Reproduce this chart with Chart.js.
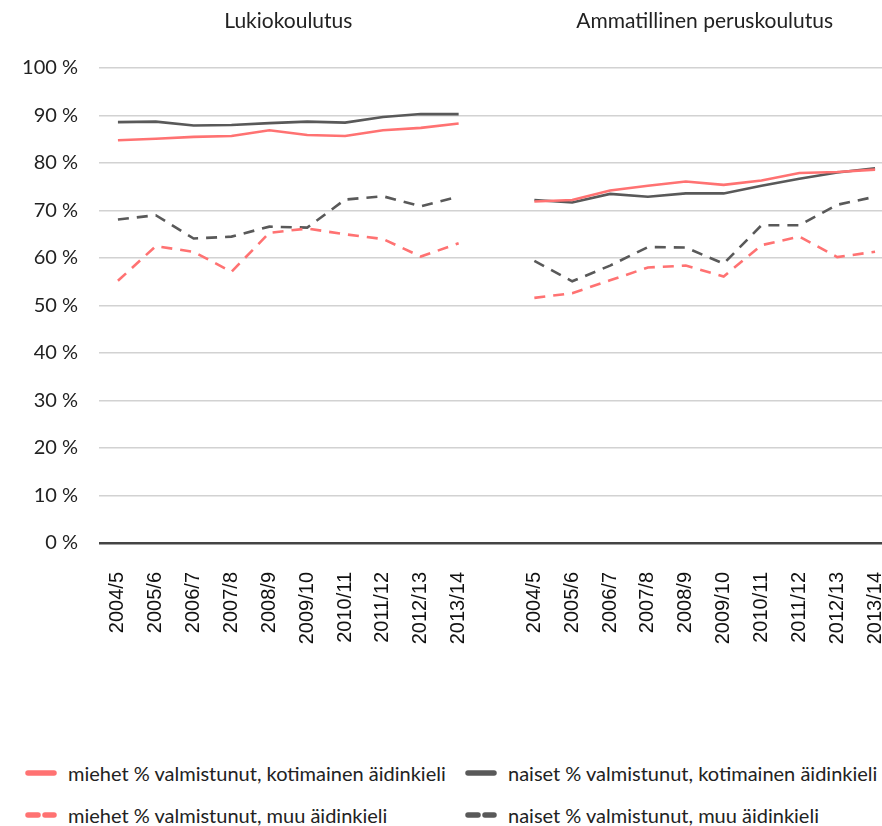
<!DOCTYPE html>
<html>
<head>
<meta charset="utf-8">
<script src="https://cdn.jsdelivr.net/npm/chart.js@4.4.1/dist/chart.umd.min.js"></script>
<style>
  html, body { margin: 0; padding: 0; background: #fff; overflow: hidden; }
  body { width: 882px; height: 826px; position: relative; font-family: Lato, "Noto Sans", sans-serif; color: #222; }
  #wrap { position: absolute; left: 0; top: 0; width: 894px; height: 680px; }
  .leg { position: absolute; display: flex; align-items: center; font-size: 20px; white-space: nowrap; }
  .leg svg { margin-right: 11px; }
</style>
</head>
<body>
<div id="wrap"><canvas id="chart"></canvas></div>
<div id="legend"></div>
<script>
// lukuvuodet, sama jako molemmille koulutusmuodoille
const years = ['2004/5', '2005/6', '2006/7', '2007/8', '2008/9', '2009/10', '2010/11', '2011/12', '2012/13', '2013/14'];
const groupTitles = ['Lukiokoulutus', 'Ammatillinen peruskoulutus'];

// % valmistunut
const miehetKotiLukio = [84.8, 85.1, 85.5, 85.7, 86.9, 85.9, 85.7, 86.9, 87.4, 88.3];
const miehetKotiAmm = [71.9, 72.2, 74.2, 75.2, 76.1, 75.4, 76.3, 77.9, 78.1, 78.6];
const naisetKotiLukio = [88.6, 88.7, 87.9, 88.0, 88.4, 88.7, 88.5, 89.7, 90.3, 90.3];
const naisetKotiAmm = [72.2, 71.7, 73.5, 72.9, 73.6, 73.6, 75.2, 76.7, 78.0, 78.9];
const miehetMuuLukio = [55.2, 62.5, 61.3, 57.1, 65.3, 66.2, 65.0, 64.0, 60.3, 63.1];
const miehetMuuAmm = [51.6, 52.6, 55.3, 58.0, 58.4, 56.1, 62.7, 64.5, 60.2, 61.3];
const naisetMuuLukio = [68.1, 69.0, 64.1, 64.5, 66.6, 66.4, 72.3, 73.0, 70.9, 72.9];
const naisetMuuAmm = [59.4, 55.1, 58.4, 62.3, 62.2, 58.8, 66.9, 66.9, 71.2, 72.9];

const RED = '#ff7272';
const GREY = '#595959';

// tyhjä sarake ryhmien väliin
const labels = years.concat([''], years);
function join(a, b) { return a.concat([null], b); }

const series = [
    { label: 'miehet % valmistunut, kotimainen äidinkieli', data: join(miehetKotiLukio, miehetKotiAmm), color: RED, dash: [] },
    { label: 'naiset % valmistunut, kotimainen äidinkieli', data: join(naisetKotiLukio, naisetKotiAmm), color: GREY, dash: [] },
    { label: 'miehet % valmistunut, muu äidinkieli', data: join(miehetMuuLukio, miehetMuuAmm), color: RED, dash: [11, 8] },
    { label: 'naiset % valmistunut, muu äidinkieli', data: join(naisetMuuLukio, naisetMuuAmm), color: GREY, dash: [11, 8] },
];

const groupTitlePlugin = {
    id: 'groupTitles',
    afterDraw(chart) {
        var x = chart.scales.x, ctx = chart.ctx;
        ctx.save();
        ctx.font = '21px Lato';
        ctx.fillStyle = '#222';
        ctx.textAlign = 'center';
        ctx.textBaseline = 'middle';
        groupTitles.forEach(function(t, i) {
            var first = i * (years.length + 1), last = first + years.length - 1;
            ctx.fillText(t, (x.getPixelForValue(first) + x.getPixelForValue(last)) / 2, 21);
        });
        ctx.restore();
    }
};

new Chart(document.getElementById('chart'), {
    type: 'line',
    data: {
        labels: labels,
        datasets: series.map(function(s) {
            return {
                label: s.label,
                data: s.data,
                borderColor: s.color,
                backgroundColor: s.color,
                borderDash: s.dash,
                borderWidth: 2.6,
                pointRadius: 0,
                tension: 0,
                spanGaps: false
            };
        })
    },
    options: {
        responsive: true,
        maintainAspectRatio: false,
        animation: false,
        layout: { padding: { top: 68, left: 0, right: 0, bottom: 0 } },
        plugins: { legend: { display: false }, tooltip: { enabled: false } },
        scales: {
            x: {
                offset: true,
                grid: { display: false, drawTicks: false },
                border: { display: false },
                ticks: {
                    autoSkip: false, minRotation: 90, maxRotation: 90, padding: 29,
                    color: '#111', font: { family: 'Liberation Sans', size: 20 }
                },
                afterFit: function(scale) {
                    scale.height = 137;
                    scale.paddingLeft = 0;
                    scale.paddingRight = 0;
                }
            },
            y: {
                min: 0, max: 100,
                border: { display: false },
                grid: {
                    drawTicks: false,
                    color: function(c) { return c.tick.value === 0 ? '#444' : '#d2d2d2'; },
                    lineWidth: function(c) { return c.tick.value === 0 ? 2.5 : 1.4; }
                },
                ticks: {
                    stepSize: 10, padding: 21, color: '#222',
                    font: { family: 'Lato', size: 20 },
                    callback: function(v) { return v + ' %'; }
                },
                afterFit: function(scale) { scale.width = 99; }
            }
        }
    },
    plugins: [groupTitlePlugin]
});

// selite kahteen sarakkeeseen
var legendPos = [[25, 773], [465, 773], [25, 815], [465, 815]];
var legend = document.getElementById('legend');
series.forEach(function(s, i) {
    var d = document.createElement('div');
    d.className = 'leg';
    d.style.left = legendPos[i][0] + 'px';
    d.style.top = (legendPos[i][1] - 13) + 'px';
    d.style.height = '26px';
    var dash = s.dash.length ? 'stroke-dasharray="10 7"' : '';
    d.innerHTML = '<svg width="32" height="8"><line x1="3" y1="4" x2="29" y2="4" stroke="' + s.color +
        '" stroke-width="5.5" stroke-linecap="round" ' + dash + '/></svg><span>' + s.label + '</span>';
    legend.appendChild(d);
});
</script>
</body>
</html>
